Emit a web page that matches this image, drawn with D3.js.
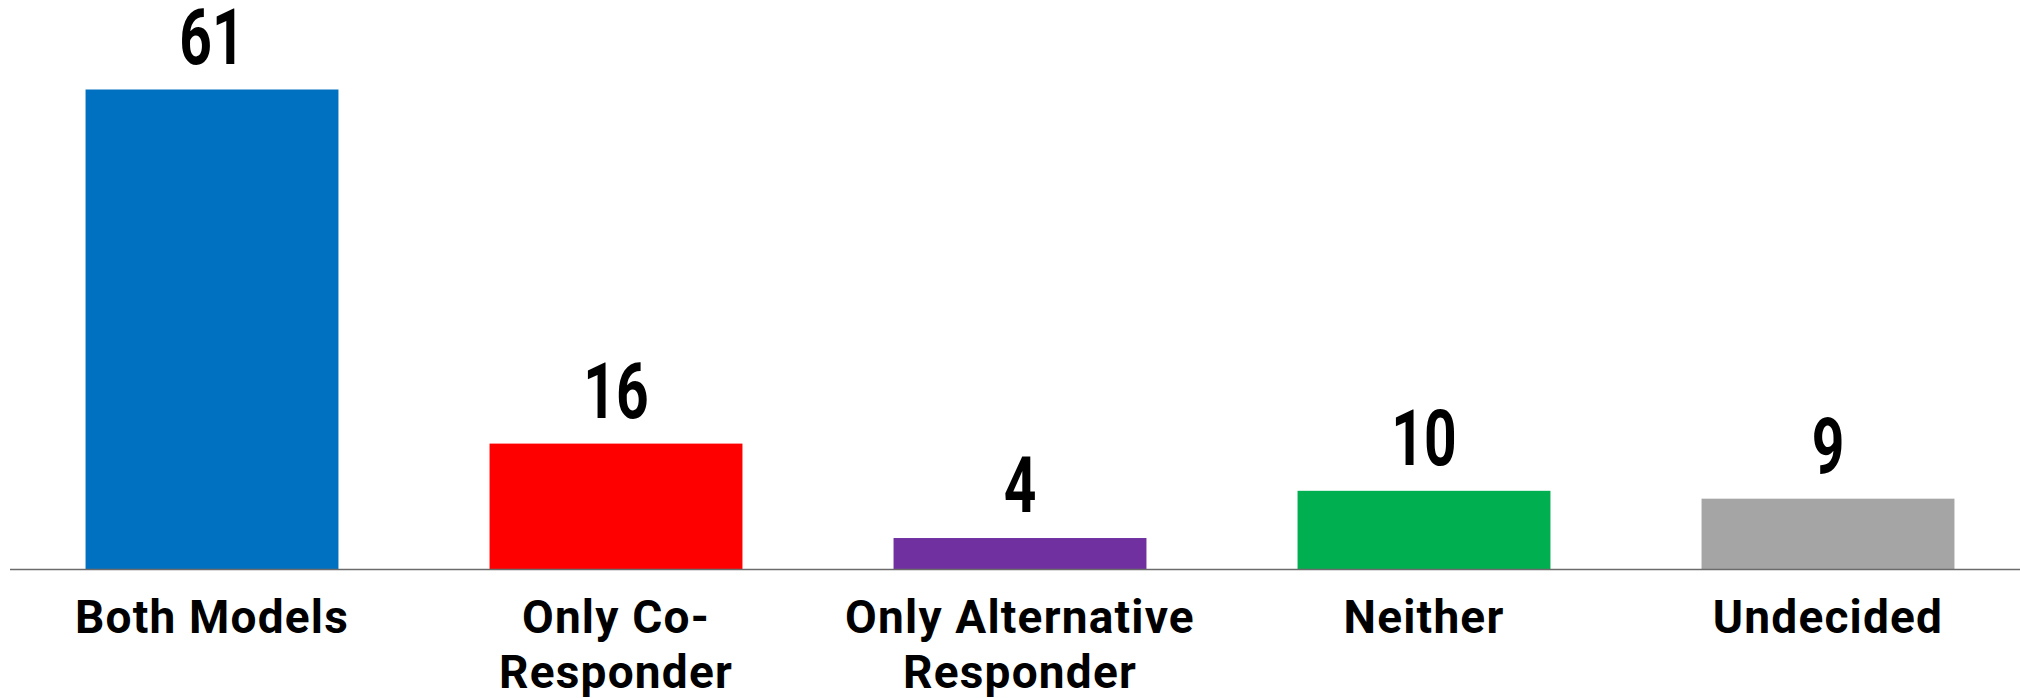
<!DOCTYPE html>
<html>
<head>
<meta charset="utf-8">
<script src="https://cdn.jsdelivr.net/npm/d3@7"></script>
<style>
  html, body { margin: 0; padding: 0; background: #ffffff; }
  svg { display: block; }
  text { font-family: Roboto, "DejaVu Sans", sans-serif; font-weight: 700; fill: #000; }
</style>
</head>
<body>
<svg id="chart" width="2020" height="698"></svg>
<script>
// Responses by model preference
const categories = ["Both Models", "Only Co-Responder", "Only Alternative Responder", "Neither", "Undecided"];
const values = [61, 16, 4, 10, 9];
const colors = ["#0070C0", "#FF0000", "#7030A0", "#00B050", "#A5A5A5"];

const W = 2020, H = 698;
const baseline = 569.5;

const svg = d3.select("#chart");

const x = d3.scaleBand()
  .domain(categories)
  .range([10, 2030])
  .paddingInner(0.374)
  .paddingOuter(0.187);

const y = d3.scaleLinear()
  .domain([0, 70])
  .range([baseline, baseline - 70 * (480 / 61)]);

// bars
svg.append("g").selectAll("rect")
  .data(categories)
  .join("rect")
  .attr("x", d => x(d))
  .attr("width", x.bandwidth())
  .attr("y", (d, i) => y(values[i]))
  .attr("height", (d, i) => y(0) - y(values[i]))
  .attr("fill", (d, i) => colors[i]);

// category axis: baseline rule only, no ticks
const axis = svg.append("g")
  .attr("transform", `translate(0,${baseline})`)
  .call(d3.axisBottom(x).tickSize(0).tickFormat(""));
axis.select(".domain").attr("stroke", "#6b6b6b").attr("stroke-width", 1.6)
  .attr("d", `M10,0H${W}`);

// value labels above bars, condensed
svg.append("g").selectAll("text")
  .data(categories)
  .join("text")
  .attr("transform", (d, i) => `translate(${x(d) + x.bandwidth() / 2},${y(values[i]) - 26}) scale(0.74,1)`)
  .attr("text-anchor", "middle")
  .attr("font-size", 77)
  .attr("font-weight", 900)
  .text((d, i) => values[i]);

// wrapped category labels
const maxWidth = 360;
const labels = svg.append("g").selectAll("text")
  .data(categories)
  .join("text")
  .attr("text-anchor", "middle")
  .attr("font-size", 46)
  .attr("letter-spacing", 1.2)
  .attr("x", d => x(d) + x.bandwidth() / 2)
  .attr("y", 633);

labels.each(function(d) {
  const t = d3.select(this);
  // break candidates: after spaces and after hyphens
  const pieces = d.match(/[^\s-]+-?\s*/g);
  const lines = [];
  let cur = "";
  const probe = t.append("tspan");
  pieces.forEach(p => {
    const trial = cur + p;
    probe.text(trial.trim());
    if (cur && probe.node().getComputedTextLength() > maxWidth) {
      lines.push(cur.trim());
      cur = p;
    } else {
      cur = trial;
    }
  });
  lines.push(cur.trim());
  probe.remove();
  lines.forEach((ln, k) => {
    t.append("tspan")
      .attr("x", t.attr("x"))
      .attr("dy", k === 0 ? 0 : 55)
      .text(ln);
  });
});
</script>
</body>
</html>
